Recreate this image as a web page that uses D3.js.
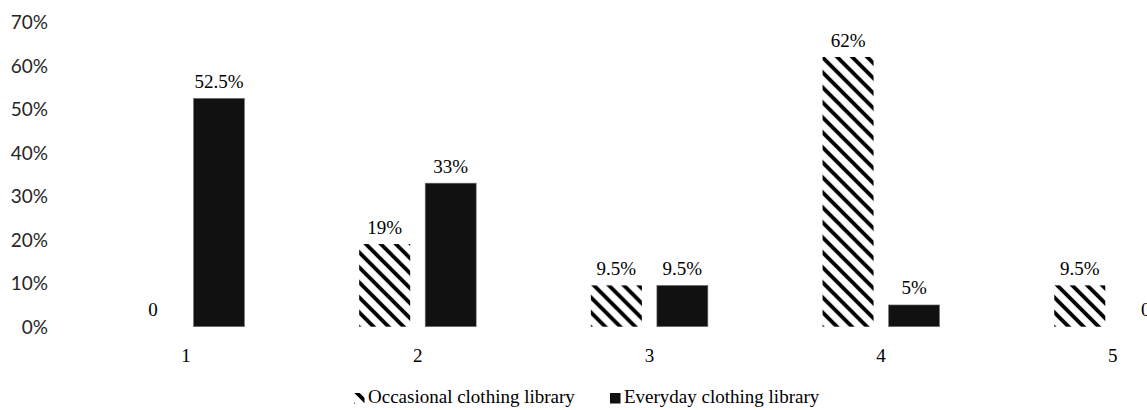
<!DOCTYPE html>
<html>
<head>
<meta charset="utf-8">
<script src="https://cdn.jsdelivr.net/npm/d3@7"></script>
<style>
  html, body { margin: 0; padding: 0; background: #fff; }
  svg { display: block; }
</style>
</head>
<body>
<div id="chart"></div>
<script>
// ---- data ----
const categories = ["1", "2", "3", "4", "5"];
const seriesNames = ["Occasional clothing library", "Everyday clothing library"];
const occasional = [0, 0.19, 0.095, 0.62, 0.095];
const everyday = [0.525, 0.33, 0.095, 0.05, 0];
const occasionalLabels = ["0", "19%", "9.5%", "62%", "9.5%"];
const everydayLabels = ["52.5%", "33%", "9.5%", "5%", "0"];
const yTicks = [0, 0.1, 0.2, 0.3, 0.4, 0.5, 0.6, 0.7];

const W = 1147, H = 410;
const svg = d3.select("#chart").append("svg").attr("width", W).attr("height", H);

const defs = svg.append("defs");
const pat = defs.append("pattern")
  .attr("id", "hatch")
  .attr("patternUnits", "userSpaceOnUse")
  .attr("width", 15).attr("height", 15);
pat.append("rect").attr("width", 15).attr("height", 15).attr("fill", "#fff");
pat.append("path")
  .attr("d", "M-3.75,-3.75 L18.75,18.75 M-3.75,11.25 L3.75,18.75 M11.25,-3.75 L18.75,3.75")
  .attr("stroke", "#000").attr("stroke-width", 3.8);

const x0 = d3.scaleBand().domain(categories).range([70.15, 1228.6]).paddingInner(0).paddingOuter(0);
const groupW = 117;
const x1 = d3.scaleBand().domain(seriesNames)
  .range([x0.bandwidth() / 2 - groupW / 2, x0.bandwidth() / 2 + groupW / 2])
  .paddingInner(0.2273).paddingOuter(0);
const y = d3.scaleLinear().domain([0, 0.7]).range([326.7, 22.2]);

const serif = "'Liberation Serif', 'Times New Roman', serif";
const sans = "Lato, 'Open Sans', sans-serif";

// y axis (labels only)
const yAxis = d3.axisLeft(y).tickValues(yTicks).tickFormat(d3.format(".0%")).tickSize(0).tickPadding(0);
const gy = svg.append("g").attr("transform", "translate(48,0)").call(yAxis);
gy.select(".domain").remove();
gy.selectAll("text").attr("font-family", sans).attr("font-size", 19).attr("fill", "#262626").attr("dy", "0.35em");

// x axis (labels only)
const xAxis = d3.axisBottom(x0).tickSize(0).tickPadding(0);
const gx = svg.append("g").attr("transform", "translate(0,362)").call(xAxis);
gx.select(".domain").remove();
gx.selectAll("text").attr("font-family", serif).attr("font-size", 19).attr("fill", "#000").attr("dy", 0);

const rows = categories.map((c, i) => ({
  cat: c,
  vals: [
    { s: seriesNames[0], v: occasional[i], lab: occasionalLabels[i] },
    { s: seriesNames[1], v: everyday[i], lab: everydayLabels[i] }
  ]
}));

const groups = svg.append("g").selectAll("g").data(rows).join("g")
  .attr("transform", d => `translate(${x0(d.cat)},0)`);

groups.selectAll("rect").data(d => d.vals).join("rect")
  .attr("x", d => x1(d.s))
  .attr("y", d => y(d.v))
  .attr("width", x1.bandwidth())
  .attr("height", d => y(0) - y(d.v))
  .attr("fill", d => d.s === seriesNames[0] ? "url(#hatch)" : "#111")
  .attr("stroke", d => d.s === seriesNames[0] ? "none" : "#777")
  .attr("stroke-width", 0.6);

groups.selectAll("text").data(d => d.vals).join("text")
  .attr("x", d => x1(d.s) + x1.bandwidth() / 2)
  .attr("y", d => y(d.v) - 10.5)
  .attr("text-anchor", "middle")
  .attr("font-family", serif).attr("font-size", 19).attr("fill", "#000")
  .text(d => d.lab);

// legend
const legend = svg.append("g");
const legendItems = [
  { name: seriesNames[0], fill: "url(#hatch)", x: 354 },
  { name: seriesNames[1], fill: "#111", x: 610 }
];
const li = legend.selectAll("g").data(legendItems).join("g")
  .attr("transform", d => `translate(${d.x},0)`);
li.append("rect").attr("x", 0).attr("y", 393).attr("width", 10.5).attr("height", 10.5)
  .attr("fill", d => d.fill);
li.append("text").attr("x", 14).attr("y", 403)
  .attr("font-family", serif).attr("font-size", 19).attr("fill", "#000")
  .text(d => d.name);
</script>
</body>
</html>
